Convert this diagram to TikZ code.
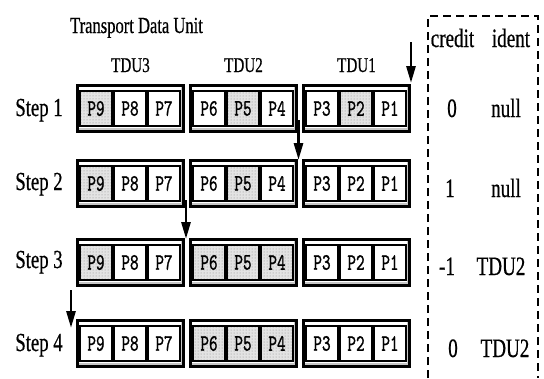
\documentclass[tikz,border=0pt]{standalone}
\usepackage{graphicx}
\usepackage{fontspec}
\setmainfont[FakeStretch=0.72,FakeBold=0.6]{Liberation Serif}
\newfontfamily\pktfont[FakeStretch=0.7,FakeBold=1]{lmmono10-regular.otf}
\usetikzlibrary{arrows.meta,patterns}
\newcommand\fs[1]{\fontsize{#1}{#1}\selectfont}
\newcommand\plab[1]{{\fs{23.5}\pktfont #1}}
\begin{document}
\begin{tikzpicture}[x=1pt,y=-1pt,
  frame/.style={draw, line width=1.8pt, fill=white, minimum width=107pt, minimum height=47pt, inner sep=0pt},
  innerframe/.style={draw, line width=0.7pt},
  shadow/.style={fill=gray!45},
  pkt/.style={draw, line width=1.3pt, fill=white, minimum width=32pt, minimum height=35pt, inner sep=0pt},
  shaded/.style={preaction={fill=gray!22}, pattern=dots, pattern color=gray!90},
  steplbl/.style={anchor=base, inner sep=0pt, font=\fs{26}},
  hdr/.style={anchor=base, inner sep=0pt, font=\fs{21}},
  val/.style={anchor=base, inner sep=0pt, font=\fs{26.5}},
  arr/.style={line width=2.8pt, -{Triangle[length=17pt,width=9pt]}},
  dashbox/.style={line width=1.2pt, dash pattern=on 8pt off 5pt}]
\useasboundingbox (0,0) rectangle (544,378);

% title and headers
\node[anchor=base, inner sep=0pt, font=\fs{23}] (title) at (136.5,33) {Transport Data Unit};
\node[hdr] (h3) at (130.5,72) {TDU3};
\node[hdr] (h2) at (243.5,72) {TDU2};
\node[hdr] (h1) at (356.5,72) {TDU1};

% step labels
\node[steplbl] (st1) at (39,116) {Step 1};
\node[steplbl] (st2) at (39,190) {Step 2};
\node[steplbl] (st3) at (39,268) {Step 3};
\node[steplbl] (st4) at (39,351) {Step 4};

% TDU rows
\foreach \r/\T/\M in {1/85/548, 2/160/544, 3/239/624, 4/320/112}{
  \foreach \t/\L in {3/77, 2/190, 1/303}{
    \node[frame] (f\r-\t) at (\L+53.5,\T+23.5) {};
    \fill[shadow] ([shift={(2.3,-2.3)}]f\r-\t.south west) rectangle ([shift={(-2.3,-5.3)}]f\r-\t.south east);
    \fill[shadow] ([shift={(-4,2.3)}]f\r-\t.north east) rectangle ([shift={(-2.3,-2.3)}]f\r-\t.south east);
    \draw[innerframe] ([shift={(2.5,2.5)}]f\r-\t.north west) rectangle ([shift={(-2.5,-2.5)}]f\r-\t.south east);
    \foreach \k in {0,1,2}{
      \pgfmathtruncatemacro\p{3*\t-\k}
      \pgfmathtruncatemacro\f{mod(floor(\M/2^\p),2)}
      \ifnum\f=1
        \node[pkt,shaded] (p\r-\p) at (\L+19+34*\k,\T+23.5) {\plab{P\p}};
      \else
        \node[pkt] (p\r-\p) at (\L+19+34*\k,\T+23.5) {\plab{P\p}};
      \fi
    }
  }
}

% arrows
\coordinate (s1a) at (411,42);   \coordinate (s1b) at (411,83);
\coordinate (s2a) at (298.5,120); \coordinate (s2b) at (298.5,160);
\coordinate (s3a) at (186,200);  \coordinate (s3b) at (186,239);
\coordinate (s4a) at (71,290);   \coordinate (s4b) at (71,328);
\draw[arr] (s1a) -- (s1b);
\draw[arr] (s2a) -- (s2b);
\draw[arr] (s3a) -- (s3b);
\draw[arr] (s4a) -- (s4b);

% state table
\draw[dashbox] (428,378) -- (428,16) -- (538,16) -- (538,378);
\node[val] (credit) at (452.5,47) {credit};
\node[val] (ident) at (511,47) {ident};
\node[val] (c1) at (452,117) {0};
\node[val] (i1) at (506,117) {null};
\node[val] (c2) at (450,197) {1};
\node[val] (i2) at (506,197) {null};
\node[val] (c3) at (447,275) {-1};
\node[val] (i3) at (501,275) {TDU2};
\node[val] (c4) at (453,357) {0};
\node[val] (i4) at (505,357) {TDU2};
\end{tikzpicture}
\end{document}
